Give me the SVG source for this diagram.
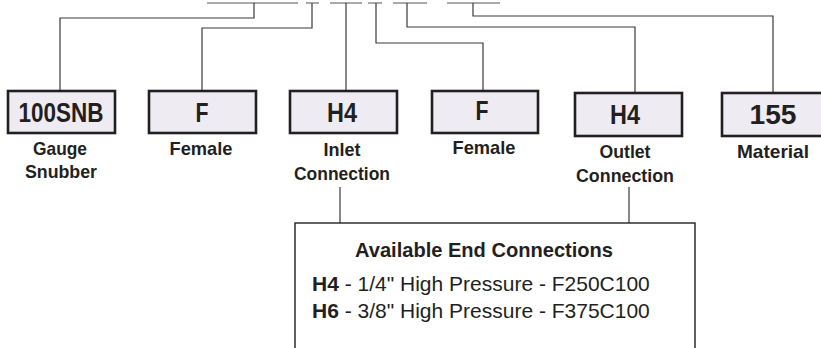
<svg xmlns="http://www.w3.org/2000/svg" width="821" height="348" viewBox="0 0 821 348">
<style>
.bg{fill:#ffffff}
.ln{fill:none;stroke:#3a3a3a;stroke-width:1.2}
.top{fill:none;stroke:#555;stroke-width:1.2}
.box{fill:#eeebf3;stroke:#231f20;stroke-width:2.6}
.val{font-family:"Liberation Sans",Arial,sans-serif;font-weight:bold;font-size:27px;fill:#231f20;text-anchor:middle}
.lbl{font-family:"Liberation Sans",Arial,sans-serif;font-weight:bold;font-size:19px;fill:#231f20;text-anchor:middle}
.ttl{font-family:"Liberation Sans",Arial,sans-serif;font-weight:bold;font-size:21px;fill:#231f20;text-anchor:middle}
.row{font-family:"Liberation Sans",Arial,sans-serif;font-size:21px;fill:#231f20}
.b{font-weight:bold}
.panel{fill:#ffffff;stroke:#231f20;stroke-width:1.4}
</style>
<rect class="bg" x="0" y="0" width="821" height="348"/>
<g id="connectors">
  <path class="top" d="M207,3H298 M306,3H319 M330,3H362 M368,3H382 M393,3H427 M447,3H500"/>
  <path class="ln" d="M254,3V18H60V91"/>
  <path class="ln" d="M312,3V28H202V91"/>
  <path class="ln" d="M346,3V91"/>
  <path class="ln" d="M376,3V43H483V91"/>
  <path class="ln" d="M407,3V27H635V93"/>
  <path class="ln" d="M473,3V16H773V93"/>
  <path class="ln" d="M340,187V223"/>
  <path class="ln" d="M629,187V223"/>
</g>
<g id="node-100snb">
  <rect class="box" x="8" y="91" width="107" height="42"/>
  <text class="val" x="61" y="122" textLength="85" lengthAdjust="spacingAndGlyphs">100SNB</text>
  <text class="lbl" x="60" y="155" textLength="54" lengthAdjust="spacingAndGlyphs">Gauge</text>
  <text class="lbl" x="61" y="178" textLength="72" lengthAdjust="spacingAndGlyphs">Snubber</text>
</g>
<g id="node-f1">
  <rect class="box" x="149" y="91" width="107" height="42"/>
  <text class="val" x="202" y="122" textLength="13" lengthAdjust="spacingAndGlyphs">F</text>
  <text class="lbl" x="201" y="155" textLength="63" lengthAdjust="spacingAndGlyphs">Female</text>
</g>
<g id="node-h4-inlet">
  <rect class="box" x="290" y="91" width="107" height="42"/>
  <text class="val" x="342" y="122" textLength="30" lengthAdjust="spacingAndGlyphs">H4</text>
  <text class="lbl" x="342" y="156" textLength="37" lengthAdjust="spacingAndGlyphs">Inlet</text>
  <text class="lbl" x="342" y="180" textLength="96" lengthAdjust="spacingAndGlyphs">Connection</text>
</g>
<g id="node-f2">
  <rect class="box" x="432" y="91" width="106" height="42"/>
  <text class="val" x="482" y="120" textLength="13" lengthAdjust="spacingAndGlyphs">F</text>
  <text class="lbl" x="484" y="154" textLength="63" lengthAdjust="spacingAndGlyphs">Female</text>
</g>
<g id="node-h4-outlet">
  <rect class="box" x="575" y="93" width="107" height="43"/>
  <text class="val" x="625" y="124" textLength="30" lengthAdjust="spacingAndGlyphs">H4</text>
  <text class="lbl" x="625" y="158" textLength="51" lengthAdjust="spacingAndGlyphs">Outlet</text>
  <text class="lbl" x="625" y="182" textLength="98" lengthAdjust="spacingAndGlyphs">Connection</text>
</g>
<g id="node-155">
  <rect class="box" x="722" y="93" width="107" height="43"/>
  <text class="val" x="773" y="124" textLength="47" lengthAdjust="spacingAndGlyphs">155</text>
  <text class="lbl" x="773" y="158" textLength="72" lengthAdjust="spacingAndGlyphs">Material</text>
</g>
<g id="node-end-connections">
  <rect class="panel" x="295" y="223" width="400" height="140"/>
  <text class="ttl" x="484" y="257" textLength="258" lengthAdjust="spacingAndGlyphs">Available End Connections</text>
  <text class="row" x="312" y="291"><tspan class="b">H4</tspan> - 1/4" High Pressure - F250C100</text>
  <text class="row" x="312" y="318"><tspan class="b">H6</tspan> - 3/8" High Pressure - F375C100</text>
</g>
</svg>
